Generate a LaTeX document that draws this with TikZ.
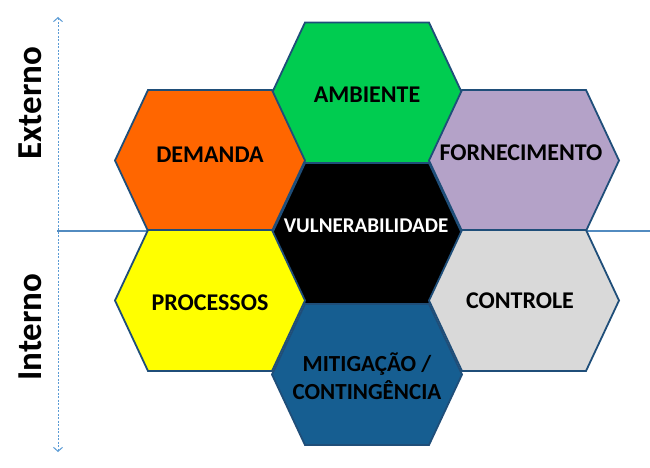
\documentclass[tikz,border=0pt]{standalone}
\usepackage{fontspec}
\setmainfont{Carlito}
\usepackage{tikz}
\usetikzlibrary{arrows.meta}
\definecolor{hexline}{RGB}{31,78,121}
\definecolor{axcol}{RGB}{91,155,213}
\definecolor{ambcol}{RGB}{0,204,80}
\definecolor{demcol}{RGB}{255,102,0}
\definecolor{forcol}{RGB}{180,162,200}
\definecolor{procol}{RGB}{255,255,0}
\definecolor{concol}{RGB}{217,217,217}
\definecolor{mitcol}{RGB}{22,94,145}
\newcommand{\hexcell}[2]{\filldraw[hexbox,fill=#2] (#1) +(-95,0) -- +(-62,-70.5) -- +(62,-70.5) -- +(95,0) -- +(62,70.5) -- +(-62,70.5) -- cycle;}

\begin{document}
\begin{tikzpicture}[x=1pt,y=-1pt,>={Straight Barb[length=4pt,width=9pt]}]
\tikzstyle{hexbox}=[draw=hexline,line width=1.8pt,line join=miter]
\tikzstyle{lbl}=[align=center,font=\fontsize{24}{28}\selectfont\bfseries]
\tikzstyle{sidelbl}=[font=\fontsize{35}{40}\selectfont\bfseries,rotate=90]
\useasboundingbox (0,0) rectangle (650,468);
\coordinate (axtop) at (58,17);
\coordinate (axbot) at (58,452);
\coordinate (hwest) at (57,231);
\coordinate (heast) at (650,231);
\draw[axcol,line width=1pt,dash pattern=on 2pt off 1.5pt,<->] (axtop) -- (axbot);
\draw[axcol!90!black,line width=1.4pt] (hwest) -- (heast);
\coordinate (amb) at (367,93);
\coordinate (dem) at (210,160.5);
\coordinate (for) at (524,160.5);
\coordinate (vul) at (367,233.5);
\coordinate (pro) at (210,300.5);
\coordinate (con) at (524,300.5);
\coordinate (mit) at (367,374.5);
\hexcell{amb}{ambcol}
\hexcell{dem}{demcol}
\hexcell{for}{forcol}
\hexcell{vul}{black}
\hexcell{pro}{procol}
\hexcell{con}{concol}
\hexcell{mit}{mitcol}
\node[lbl] (ambt) at (367,95) {AMBIENTE};
\node[lbl] (demt) at (210,155) {DEMANDA};
\node[lbl] (fort) at (521,153) {FORNECIMENTO};
\node[lbl,white,font=\fontsize{21}{25}\selectfont\bfseries] (vult) at (366,226) {VULNERABILIDADE};
\node[lbl] (prot) at (210,303) {PROCESSOS};
\node[lbl] (cont) at (520,301) {CONTROLE};
\node[lbl,font=\fontsize{23}{28}\selectfont\bfseries] (mitt) at (367,376) {MITIGAÇÃO /\\CONTINGÊNCIA};
\node[sidelbl] (ext) at (30,103) {Externo};
\node[sidelbl] (int) at (30,327) {Interno};
\end{tikzpicture}
\end{document}
